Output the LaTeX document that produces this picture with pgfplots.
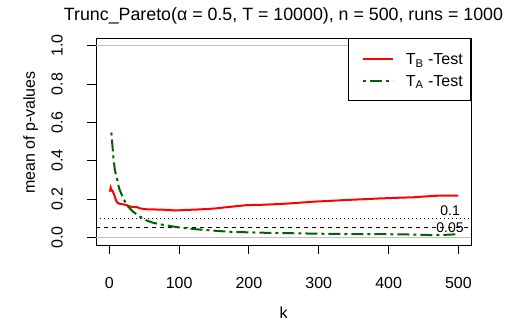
\documentclass[border=0pt]{standalone}
\usepackage{fontspec}
\setmainfont{Liberation Sans}
\usepackage{pgfplots}
\pgfplotsset{compat=1.18}
\definecolor{rdarkgreen}{HTML}{006400}
\definecolor{rgrey}{HTML}{BEBEBE}
\begin{document}
\begin{tikzpicture}[x=1pt,y=1pt]
\useasboundingbox (0,0) rectangle (510,322);
\begin{axis}[
  at={(96pt,77pt)}, anchor=south west,
  scale only axis, width=375pt, height=207pt,
  xmin=-19, xmax=518, ymin=-0.04, ymax=1.04,
  xtick={0,100,200,300,400,500},
  ytick={0,0.2,0.4,0.6,0.8,1.0},
  tick align=outside, major tick length=9pt,
  xtick pos=bottom, ytick pos=left,
  tick style={black, line width=1pt},
  axis line style={black, line width=1pt},
  /pgf/number format/assume math mode=true,
  ticklabel style={font=\fontsize{16}{19}\selectfont},
  xticklabel style={anchor=north, inner sep=0pt, yshift=-23pt},
  yticklabel style={xshift=-24pt, rotate=90, anchor=south, inner sep=0pt,
    /pgf/number format/.cd, fixed, fixed zerofill, precision=1},
  title={Trunc\_Pareto(α = 0.5, T = 10000), n = 500, runs = 1000},
  title style={at={(axis description cs:0.5,1)}, anchor=base, yshift=12pt,
    inner sep=0pt, font=\fontsize{17.8}{21}\selectfont},
  xlabel={k},
  xlabel style={at={(axis description cs:0.5,-0.3527)}, anchor=base,
    inner sep=0pt, font=\fontsize{16}{19}\selectfont},
  ylabel={mean of p-values},
  ylabel style={at={(axis description cs:-0.1627,0.543)}, anchor=base,
    inner sep=0pt, font=\fontsize{16}{19}\selectfont},
  legend cell align=left,
  legend style={at={(axis description cs:1,1)}, anchor=north east,
    draw=black, line width=1pt, fill=white,
    inner xsep=7.7pt, inner ysep=9.5pt, row sep=0pt, column sep=0pt,
    nodes={inner sep=0pt, text height=15.6pt, text depth=4.1pt,
      font=\fontsize{16}{19}\selectfont}},
  legend image code/.code={
    \path (0pt,-9.85pt) (47.6pt,9.85pt);
    \draw[#1] (5.6pt,0pt) -- (35.6pt,0pt);},
]
% reference lines
\addplot[rgrey, line width=1pt, forget plot] coordinates {(-19,0) (518,0)};
\addplot[rgrey, line width=1pt, forget plot] coordinates {(-19,1) (518,1)};
\addplot[black, line width=1pt, dash pattern=on 1pt off 3pt, forget plot]
  coordinates {(-19,0.1) (518,0.1)};
\addplot[black, line width=1pt, dash pattern=on 4pt off 4pt, forget plot]
  coordinates {(-19,0.05) (518,0.05)};
\node[anchor=south, inner sep=0pt, yshift=2.7pt, font=\fontsize{14}{16}\selectfont]
  at (axis cs:488,0.1) {0.1};
\node[anchor=center, inner sep=0pt, font=\fontsize{14}{16}\selectfont]
  at (axis cs:488,0.05) {0.05};

% T_B
\addplot[red, line width=2pt] coordinates {
  (1,0.238) (2,0.259) (3,0.250) (5,0.240) (6,0.232) (8,0.212) (10,0.190)
  (12,0.180) (15,0.175) (20,0.172) (25,0.168) (30,0.160) (40,0.157)
  (45,0.150) (55,0.146) (70,0.145) (85,0.143) (95,0.140) (110,0.143)
  (125,0.145) (140,0.148) (150,0.150) (170,0.158) (197,0.168) (220,0.170)
  (245,0.174) (270,0.180) (292,0.186) (315,0.190) (340,0.195) (365,0.199)
  (388,0.203) (410,0.206) (436,0.209) (455,0.214) (474,0.218) (500,0.218)
};
\addlegendentry{T\textsubscript{B} -Test}
% T_A
\addplot[rdarkgreen, line width=2pt, dash pattern=on 3pt off 4pt on 12pt off 4pt] coordinates {
  (3,0.547) (4,0.500) (5,0.460) (6,0.413) (8,0.352) (10,0.320) (11.5,0.300)
  (14,0.256) (18,0.221) (22.5,0.186) (27,0.160) (34,0.134) (44,0.108)
  (54,0.087) (62,0.077) (70,0.070) (87,0.059) (101,0.051) (125,0.042)
  (149,0.035) (173,0.029) (200,0.026) (221,0.024) (268,0.021) (300,0.019)
  (340,0.017) (412,0.016) (440,0.014) (460,0.012) (480,0.013) (498,0.016)
};
\addlegendentry{T\textsubscript{A} -Test}
\end{axis}
\end{tikzpicture}
\end{document}
